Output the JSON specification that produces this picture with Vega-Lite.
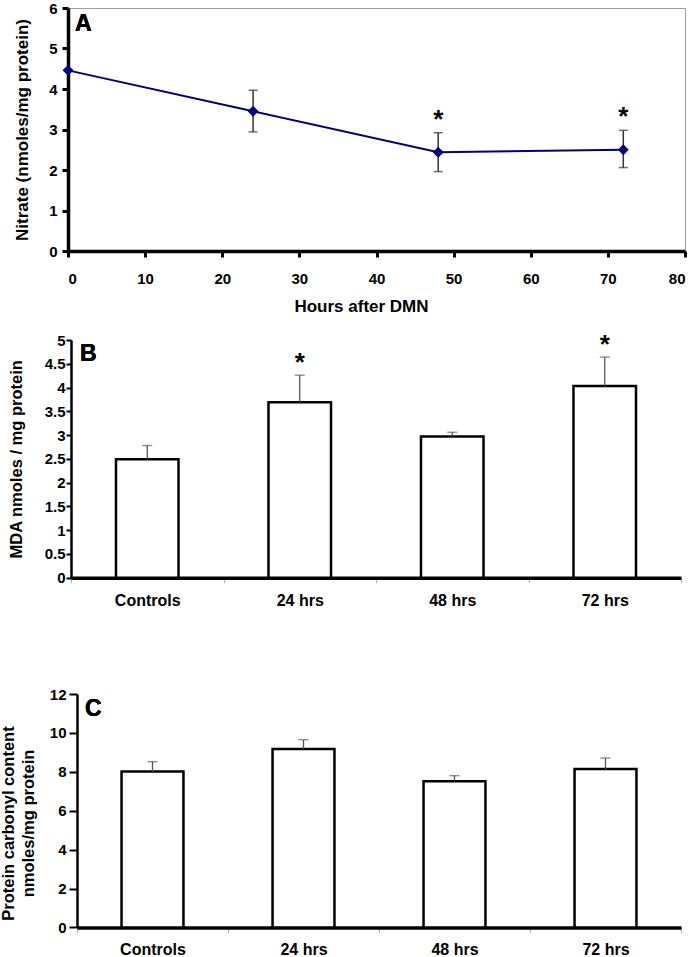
{
  "$schema": "https://vega.github.io/schema/vega-lite/v6.json",
  "padding": {"left": 0, "top": 0, "right": 0, "bottom": 0},
  "background": "white",
  "config": {
    "font": "Liberation Sans",
    "view": {"stroke": null},
    "axis": {
      "labelFont": "Liberation Sans", "labelFontWeight": "bold", "labelColor": "black",
      "titleFont": "Liberation Sans", "titleFontWeight": "bold", "titleColor": "black",
      "grid": false, "domainColor": "black", "tickColor": "black", "zindex": 1,
      "labelOverlap": false
    }
  },
  "spacing": 78,
  "vconcat": [
    {
      "spacing": 17,
      "vconcat": [
        {
          "width": 617, "height": 243,
          "view": {"stroke": "#a0a0a0", "strokeWidth": 1},
          "data": {"values": [
            {"hours": 0, "mean": 4.46, "lo": null, "hi": null, "sig": ""},
            {"hours": 24, "mean": 3.45, "lo": 2.94, "hi": 3.97, "sig": ""},
            {"hours": 48, "mean": 2.44, "lo": 1.96, "hi": 2.92, "sig": "*"},
            {"hours": 72, "mean": 2.50, "lo": 2.06, "hi": 2.98, "sig": "*"}
          ]},
          "encoding": {
            "x": {"field": "hours", "type": "quantitative",
              "scale": {"domain": [0, 80], "nice": false},
              "axis": {"title": "Hours after DMN", "titleFontSize": 17, "titleX": 293, "titlePadding": 12,
                "labelPadding": 14, "labelFontSize": 15, "tickSize": 6, "tickWidth": 3, "domainWidth": 3.5,
                "tickCount": 20, "format": "~g", "values": [0, 10, 20, 30, 40, 50, 60, 70, 80]}}
          },
          "layer": [
            {"mark": {"type": "rule", "color": "#333333", "strokeWidth": 1.5},
             "encoding": {"y": {"field": "lo", "type": "quantitative"}, "y2": {"field": "hi"}}},
            {"mark": {"type": "tick", "orient": "horizontal", "size": 9, "thickness": 1.5, "color": "#333333"},
             "encoding": {"y": {"field": "lo", "type": "quantitative"}}},
            {"mark": {"type": "tick", "orient": "horizontal", "size": 9, "thickness": 1.5, "color": "#333333"},
             "encoding": {"y": {"field": "hi", "type": "quantitative"}}},
            {"mark": {"type": "line", "color": "#000080", "strokeWidth": 2},
             "encoding": {"y": {"field": "mean", "type": "quantitative",
               "scale": {"domain": [0, 6], "nice": false},
               "axis": {"title": "Nitrate (nmoles/mg protein)", "titleFontSize": 17, "titlePadding": 17,
                 "minExtent": 20, "maxExtent": 20, "labelPadding": 5, "labelFontSize": 15,
                 "tickSize": 6, "tickWidth": 3, "domainWidth": 3.5, "tickCount": 20, "format": "~g",
                 "values": [0, 1, 2, 3, 4, 5, 6]}}}},
            {"mark": {"type": "point", "shape": "diamond", "filled": true, "size": 120, "color": "#000080", "opacity": 1},
             "encoding": {"y": {"field": "mean", "type": "quantitative"}}},
            {"mark": {"type": "text", "fontSize": 26, "fontWeight": "bold", "baseline": "alphabetic", "dy": -5},
             "encoding": {"y": {"field": "hi", "type": "quantitative"}, "text": {"field": "sig"}}},
            {"mark": {"type": "text", "fontSize": 23, "fontWeight": "bold", "align": "left", "baseline": "middle"},
             "encoding": {"x": {"datum": 0.9}, "y": {"datum": 5.61}, "text": {"value": "A"}}}
          ]
        },
        {
          "width": 613, "height": 237.7,
          "data": {"values": [
            {"group": "Controls", "mean": 2.49, "hi": 2.78, "sig": ""},
            {"group": "24 hrs", "mean": 3.69, "hi": 4.26, "sig": "*"},
            {"group": "48 hrs", "mean": 2.97, "hi": 3.06, "sig": ""},
            {"group": "72 hrs", "mean": 4.03, "hi": 4.64, "sig": "*"}
          ]},
          "encoding": {
            "x": {"field": "group", "type": "nominal", "sort": null,
              "scale": {"range": [3, 613], "paddingInner": 0, "paddingOuter": 0},
              "axis": {"title": null, "labelAngle": 0, "labelFontSize": 16, "labelPadding": 10,
                "tickBand": "extent", "tickColor": "#b0b0b0", "tickWidth": 1, "tickSize": 5, "domainWidth": 3.5}}
          },
          "layer": [
            {"mark": {"type": "bar", "width": {"band": 0.41}, "fill": "white", "stroke": "black", "strokeWidth": 2.5},
             "encoding": {"y": {"field": "mean", "type": "quantitative",
               "scale": {"domain": [0, 5], "nice": false},
               "axis": {"title": "MDA nmoles / mg protein", "titleFontSize": 16.5, "titlePadding": 20,
                 "minExtent": 27, "maxExtent": 27, "offset": -3, "labelPadding": 1, "labelFontSize": 15,
                 "tickSize": 5, "tickWidth": 2, "domainWidth": 2.5, "format": "~g", "tickCount": 20,
                 "values": [0, 0.5, 1, 1.5, 2, 2.5, 3, 3.5, 4, 4.5, 5]}}}},
            {"mark": {"type": "rule", "color": "#555555", "strokeWidth": 1.3},
             "encoding": {"y": {"field": "mean", "type": "quantitative"}, "y2": {"field": "hi"}}},
            {"mark": {"type": "tick", "orient": "horizontal", "size": 10, "thickness": 1.3, "color": "#555555"},
             "encoding": {"y": {"field": "hi", "type": "quantitative"}}},
            {"mark": {"type": "text", "fontSize": 26, "fontWeight": "bold", "baseline": "alphabetic", "dy": -4},
             "encoding": {"y": {"field": "hi", "type": "quantitative"}, "text": {"field": "sig"}}},
            {"mark": {"type": "text", "fontSize": 23, "fontWeight": "bold", "align": "left", "baseline": "middle", "dx": 9},
             "encoding": {"x": {"datum": "Controls", "bandPosition": 0}, "y": {"datum": 4.7}, "text": {"value": "B"}}}
          ]
        }
      ]
    },
    {
      "width": 613, "height": 233.4,
      "data": {"values": [
        {"group": "Controls", "mean": 8.01, "hi": 8.52},
        {"group": "24 hrs", "mean": 9.17, "hi": 9.65},
        {"group": "48 hrs", "mean": 7.51, "hi": 7.8},
        {"group": "72 hrs", "mean": 8.14, "hi": 8.71}
      ]},
      "encoding": {
        "x": {"field": "group", "type": "nominal", "sort": null,
          "scale": {"range": [9, 613], "paddingInner": 0, "paddingOuter": 0},
          "axis": {"title": null, "labelAngle": 0, "labelFontSize": 16, "labelPadding": 9,
            "tickBand": "extent", "tickColor": "#b0b0b0", "tickWidth": 1, "tickSize": 5, "domainWidth": 3.5}}
      },
      "layer": [
        {"mark": {"type": "bar", "width": {"band": 0.41}, "fill": "white", "stroke": "black", "strokeWidth": 2.5},
         "encoding": {"y": {"field": "mean", "type": "quantitative",
           "scale": {"domain": [0, 12], "nice": false},
           "axis": {"title": ["Protein carbonyl content", "nmoles/mg protein"], "titleFontSize": 16.5,
             "titleLineHeight": 20, "titlePadding": 13, "titleY": 129,
             "minExtent": 28, "maxExtent": 28, "offset": -9, "labelPadding": 3, "labelFontSize": 15,
             "tickSize": 8, "tickWidth": 2, "domainWidth": 2.5, "tickCount": 20, "format": "~g",
             "values": [0, 2, 4, 6, 8, 10, 12]}}}},
        {"mark": {"type": "rule", "color": "#555555", "strokeWidth": 1.3},
         "encoding": {"y": {"field": "mean", "type": "quantitative"}, "y2": {"field": "hi"}}},
        {"mark": {"type": "tick", "orient": "horizontal", "size": 10, "thickness": 1.3, "color": "#555555"},
         "encoding": {"y": {"field": "hi", "type": "quantitative"}}},
        {"mark": {"type": "text", "fontSize": 23, "fontWeight": "bold", "align": "left", "baseline": "middle", "dx": 8},
         "encoding": {"x": {"datum": "Controls", "bandPosition": 0}, "y": {"datum": 11.25}, "text": {"value": "C"}}}
      ]
    }
  ]
}
